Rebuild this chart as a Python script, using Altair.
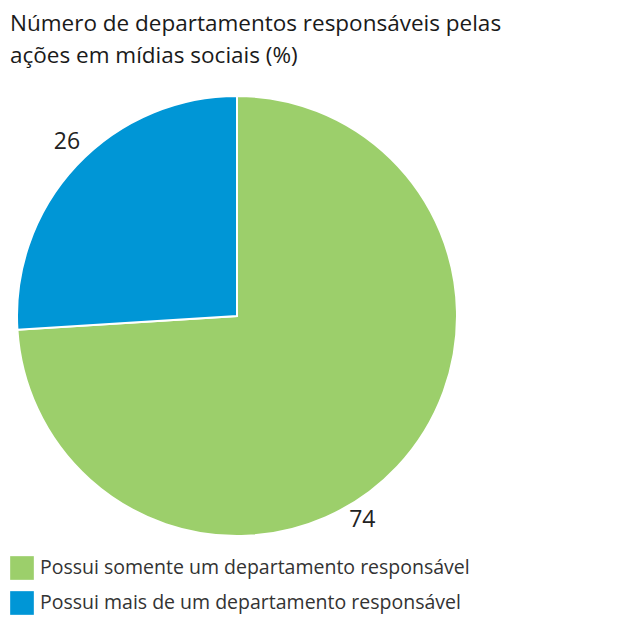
import altair as alt
import pandas as pd

categories = ["Possui somente um departamento responsável", "Possui mais de um departamento responsável"]
values = [74, 26]
colors = ["#9ccf6b", "#0096d6"]
title_lines = ["Número de departamentos responsáveis pelas", "ações em mídias sociais (%)"]

df = pd.DataFrame({"cat": categories, "val": values, "order": [0, 1], "label": [str(v) for v in values]})

FONT = "Open Sans"
CX, CY = 229, 308

color = alt.Color("cat:N", scale=alt.Scale(domain=categories, range=colors),
                  sort=categories,
                  legend=alt.Legend(title=None, orient="none", legendX=2, legendY=548,
                                    symbolType="square", symbolSize=560, symbolStrokeWidth=0,
                                    labelFont=FONT, labelFontSize=19.5, labelColor="#333333",
                                    labelLimit=600, rowPadding=11, labelOffset=6))

pie = alt.Chart(df).mark_arc(radius=220, stroke="white", strokeWidth=2).encode(
    theta=alt.Theta("val:Q", stack=True), order=alt.Order("order:Q"),
    color=color, x=alt.value(CX), y=alt.value(CY))

lab74 = alt.Chart(df).mark_text(radius=239, thetaOffset=0.265, font=FONT, fontSize=23, color="#222222").encode(
    theta=alt.Theta("val:Q", stack=True), order=alt.Order("order:Q"),
    text=alt.condition(alt.datum.order == 0, "label:N", alt.value("")),
    x=alt.value(CX), y=alt.value(CY))
lab26 = alt.Chart(df).mark_text(radius=243, thetaOffset=0.042, font=FONT, fontSize=23, color="#222222").encode(
    theta=alt.Theta("val:Q", stack=True), order=alt.Order("order:Q"),
    text=alt.condition(alt.datum.order == 1, "label:N", alt.value("")),
    x=alt.value(CX), y=alt.value(CY))

tdf = pd.DataFrame({"t": title_lines, "i": [0, 1]})
title = alt.Chart(tdf).mark_text(align="left", baseline="alphabetic", font=FONT, fontSize=22.5,
                                 color="#1a1a1a").encode(
    text="t:N",
    x=alt.value(2),
    y=alt.Y("i:Q", axis=None, scale=alt.Scale(domain=[0, 1], range=[23, 55])),
)

chart = alt.layer(pie, lab74, lab26, title, view=alt.ViewBackground(stroke=None)).properties(
    width=595, height=612, autosize=alt.AutoSizeParams(type="none"), padding=0
).configure_view(stroke=None).configure(background="white")

chart.save("out.html", embed_options={"renderer": "svg", "actions": False})
